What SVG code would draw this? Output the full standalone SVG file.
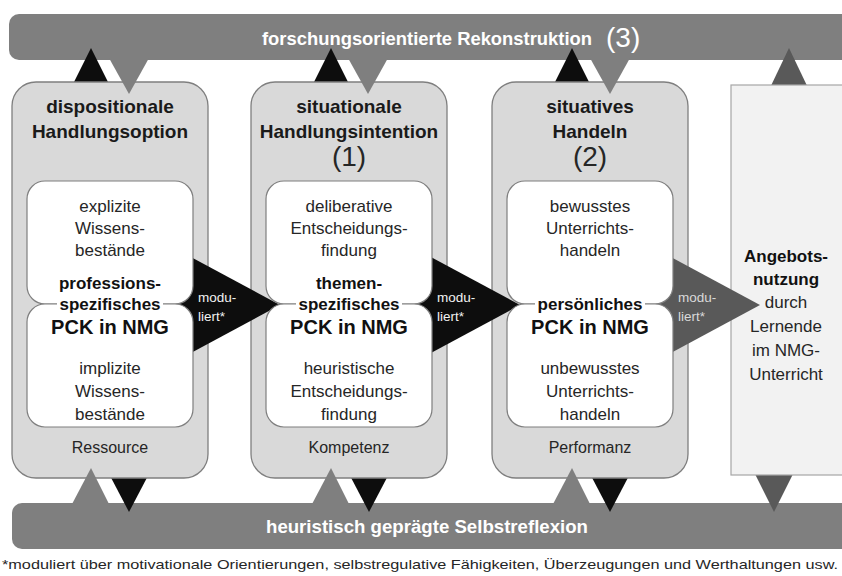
<svg xmlns="http://www.w3.org/2000/svg" width="842" height="576" viewBox="0 0 842 576">
<style>
text{font-family:"Liberation Sans",Arial,sans-serif;text-anchor:middle;fill:#262626}
.bar{fill:#7f7f7f}
.outer{fill:#d9d9d9;stroke:#7f7f7f;stroke-width:1.3}
.inner{fill:#ffffff;stroke:#7f7f7f;stroke-width:1.2}
.t{font-size:19px;font-weight:bold;fill:#1a1a1a}
.b{font-size:17px}
.bb{font-size:17px;font-weight:bold;fill:#111}
.pck{font-size:20px;font-weight:bold;fill:#111}
.num{font-size:28px;font-weight:300;fill:#262626}
.foot{font-size:16px}
.mod{font-size:13.5px;text-anchor:start;fill:#f2f2f2}
.bartext{font-size:18px;font-weight:bold;fill:#ffffff}
.blk{fill:#0d0d0d}
.gry{fill:#7f7f7f}
.dk{fill:#595959}
</style>

<!-- bars -->
<g id="bar-top">
<rect class="bar" x="9" y="14" width="850" height="46" rx="10"/>
<text class="bartext" x="427" y="45" textLength="330" lengthAdjust="spacingAndGlyphs">forschungsorientierte Rekonstruktion</text>
<text x="606" y="47" style="font-size:28px;font-weight:300;fill:#ffffff;text-anchor:start">(3)</text>
</g>
<g id="bar-bottom">
<rect class="bar" x="12" y="503" width="850" height="46" rx="10"/>
<text class="bartext" x="427" y="533" textLength="322" lengthAdjust="spacingAndGlyphs">heuristisch geprägte Selbstreflexion</text>
</g>

<!-- connectors under boxes -->
<g id="connectors-back">
<polygon class="blk" points="91,48 70,90 112,90"/>
<polygon class="blk" points="331,48 310,90 352,90"/>
<polygon class="blk" points="572,48 551,90 593,90"/>
<polygon class="dk" points="789,48 768,92 810,92"/>
<polygon class="blk" points="107,470 151,470 129,512"/>
<polygon class="blk" points="347,470 391,470 369,512"/>
<polygon class="blk" points="588,470 632,470 610,512"/>
<polygon class="dk" points="752,468 796,468 774,512"/>
</g>

<!-- outer nodes -->
<g id="col1">
<rect class="outer" x="12" y="82" width="196" height="396" rx="24"/>
<text class="t" x="110" y="113">dispositionale</text>
<text class="t" x="110" y="138">Handlungsoption</text>
<text class="foot" x="110" y="453">Ressource</text>
</g>
<g id="col2">
<rect class="outer" x="251" y="82" width="196" height="396" rx="24"/>
<text class="t" x="349" y="113">situationale</text>
<text class="t" x="349" y="138">Handlungsintention</text>
<text class="num" x="349" y="166">(1)</text>
<text class="foot" x="349" y="453">Kompetenz</text>
</g>
<g id="col3">
<rect class="outer" x="492" y="82" width="196" height="396" rx="24"/>
<text class="t" x="590" y="113">situatives</text>
<text class="t" x="590" y="138">Handeln</text>
<text class="num" x="590" y="166">(2)</text>
<text class="foot" x="590" y="453">Performanz</text>
</g>
<g id="col4">
<rect x="731" y="85" width="112" height="390" fill="#f2f2f2" stroke="#a6a6a6" stroke-width="1.2"/>
<text class="bb" x="786" y="262">Angebots-</text>
<text class="bb" x="786" y="285">nutzung</text>
<text class="b" x="786" y="308">durch</text>
<text class="b" x="786" y="332">Lernende</text>
<text class="b" x="786" y="356">im NMG-</text>
<text class="b" x="786" y="380">Unterricht</text>
</g>

<!-- connectors: feedback triangles over boxes and modulation arrows -->
<g id="connectors">
<polygon class="gry" points="109,58 149,58 129,94"/>
<polygon class="gry" points="348,58 388,58 368,94"/>
<polygon class="gry" points="590,58 630,58 610,94"/>
<polygon class="gry" points="91,468 71,506 110,506"/>
<polygon class="gry" points="331,468 311,506 350,506"/>
<polygon class="gry" points="572,468 552,506 591,506"/>
<polygon class="blk" points="150,235 280,305 150,375"/>
<polygon class="blk" points="390,235 520,305 390,375"/>
<polygon class="dk" points="630,235 760,305 630,375"/>
</g>

<!-- inner nodes -->
<g id="pck1">
<rect class="inner" x="27" y="181" width="166" height="123" rx="18"/>
<rect class="inner" x="27" y="304" width="166" height="123" rx="18"/>
<rect x="57" y="298" width="106" height="12" fill="#ffffff"/>
<text class="b" x="110" y="212">explizite</text>
<text class="b" x="110" y="234">Wissens-</text>
<text class="b" x="110" y="256">bestände</text>
<text class="bb" x="110" y="289">professions-</text>
<text class="bb" x="110" y="310">spezifisches</text>
<text class="pck" x="110" y="334">PCK in NMG</text>
<text class="b" x="110" y="374">implizite</text>
<text class="b" x="110" y="397">Wissens-</text>
<text class="b" x="110" y="420">bestände</text>
</g>
<g id="pck2">
<rect class="inner" x="266" y="181" width="166" height="123" rx="18"/>
<rect class="inner" x="266" y="304" width="166" height="123" rx="18"/>
<rect x="296" y="298" width="106" height="12" fill="#ffffff"/>
<text class="b" x="349" y="212">deliberative</text>
<text class="b" x="349" y="234">Entscheidungs-</text>
<text class="b" x="349" y="256">findung</text>
<text class="bb" x="349" y="289">themen-</text>
<text class="bb" x="349" y="310">spezifisches</text>
<text class="pck" x="349" y="334">PCK in NMG</text>
<text class="b" x="349" y="374">heuristische</text>
<text class="b" x="349" y="397">Entscheidungs-</text>
<text class="b" x="349" y="420">findung</text>
</g>
<g id="pck3">
<rect class="inner" x="507" y="181" width="166" height="123" rx="18"/>
<rect class="inner" x="507" y="304" width="166" height="123" rx="18"/>
<rect x="535" y="298" width="110" height="12" fill="#ffffff"/>
<text class="b" x="590" y="212">bewusstes</text>
<text class="b" x="590" y="234">Unterrichts-</text>
<text class="b" x="590" y="256">handeln</text>
<text class="bb" x="590" y="310">persönliches</text>
<text class="pck" x="590" y="334">PCK in NMG</text>
<text class="b" x="590" y="374">unbewusstes</text>
<text class="b" x="590" y="397">Unterrichts-</text>
<text class="b" x="590" y="420">handeln</text>
</g>

<!-- connector labels -->
<g id="connector-labels">
<text class="mod" x="198" y="302">modu-</text>
<text class="mod" x="198" y="321">liert*</text>
<text class="mod" x="437" y="302">modu-</text>
<text class="mod" x="437" y="321">liert*</text>
<text class="mod" x="678" y="302" style="fill:#d9d9d9">modu-</text>
<text class="mod" x="678" y="321" style="fill:#d9d9d9">liert*</text>
</g>

<text x="420" y="569" style="font-size:13px" textLength="836" lengthAdjust="spacingAndGlyphs">*moduliert über motivationale Orientierungen, selbstregulative Fähigkeiten, Überzeugungen und Werthaltungen usw.</text>
</svg>
